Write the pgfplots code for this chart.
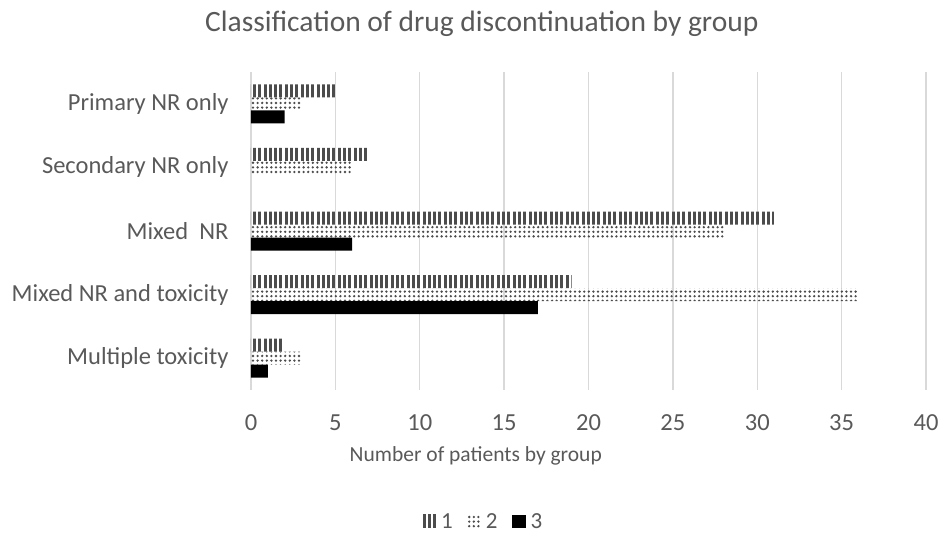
\documentclass[border=0pt]{standalone}
\usepackage{pgfplots}
\pgfplotsset{compat=1.18}
\usepackage{fontspec}
\setmainfont{Carlito}
\usetikzlibrary{patterns.meta}
\definecolor{txt}{HTML}{595959}
\definecolor{gridc}{HTML}{D9D9D9}
\begin{document}
\begin{tikzpicture}
\useasboundingbox (-251pt,-150pt) rectangle (691pt,390pt);
\begin{axis}[
  at={(0,0)}, anchor=south west,
  scale only axis, width=675pt, height=318pt,
  xbar=0pt, bar width=13pt,
  y dir=reverse,
  xmin=0, xmax=40, xtick={0,5,...,40},
  ymin=-0.5, ymax=4.5,
  ytick={0,1,2,3,4},
  yticklabels={Primary NR only, Secondary NR only, Mixed\ \ NR, Mixed NR and toxicity, Multiple toxicity},
  axis line style={draw=none},
  major tick length=0pt,
  xmajorgrids, grid style={gridc, line width=1.3pt},
  tick label style={font=\fontsize{24.5}{28}\selectfont, text=txt},
  /pgf/number format/assume math mode=true,
  yticklabel style={xshift=-19pt},
  xticklabel style={yshift=-21pt},
  xlabel={Number of patients by group},
  xlabel style={font=\fontsize{21.5}{25}\selectfont, text=txt, at={(axis description cs:0.333,-0.208)}, anchor=center},
  title={Classification of drug discontinuation by group},
  title style={font=\fontsize{29.5}{34}\selectfont, text=txt, at={(axis description cs:0.342,1.132)}, anchor=center},
  legend style={at={(axis description cs:0.344,-0.415)}, anchor=center, draw=none, legend columns=-1,
    font=\fontsize{23}{26}\selectfont, text=txt,
    /tikz/every odd column/.append style={column sep=3pt},
    /tikz/every even column/.append style={column sep=12pt}},
  legend image code/.code={\fill[#1] (0cm,-6pt) rectangle (14pt,7pt);},
]
\addplot[draw=none, bar shift=13pt, pattern={Lines[angle=90,distance=5.3pt,line width=3pt]}, pattern color=black!70] coordinates {(5,0) (7,1) (31,2) (19,3) (2,4)};
\addplot[draw=none, bar shift=0pt, pattern={Dots[distance=4.6pt,radius=1.3pt]}, pattern color=black!70] coordinates {(3,0) (6,1) (28,2) (36,3) (3,4)};
\addplot[draw=none, fill=black, bar shift=-13pt] coordinates {(2,0) (1,4) (6,2) (17,3)};
\legend{1,2,3}
\end{axis}
\end{tikzpicture}
\end{document}
